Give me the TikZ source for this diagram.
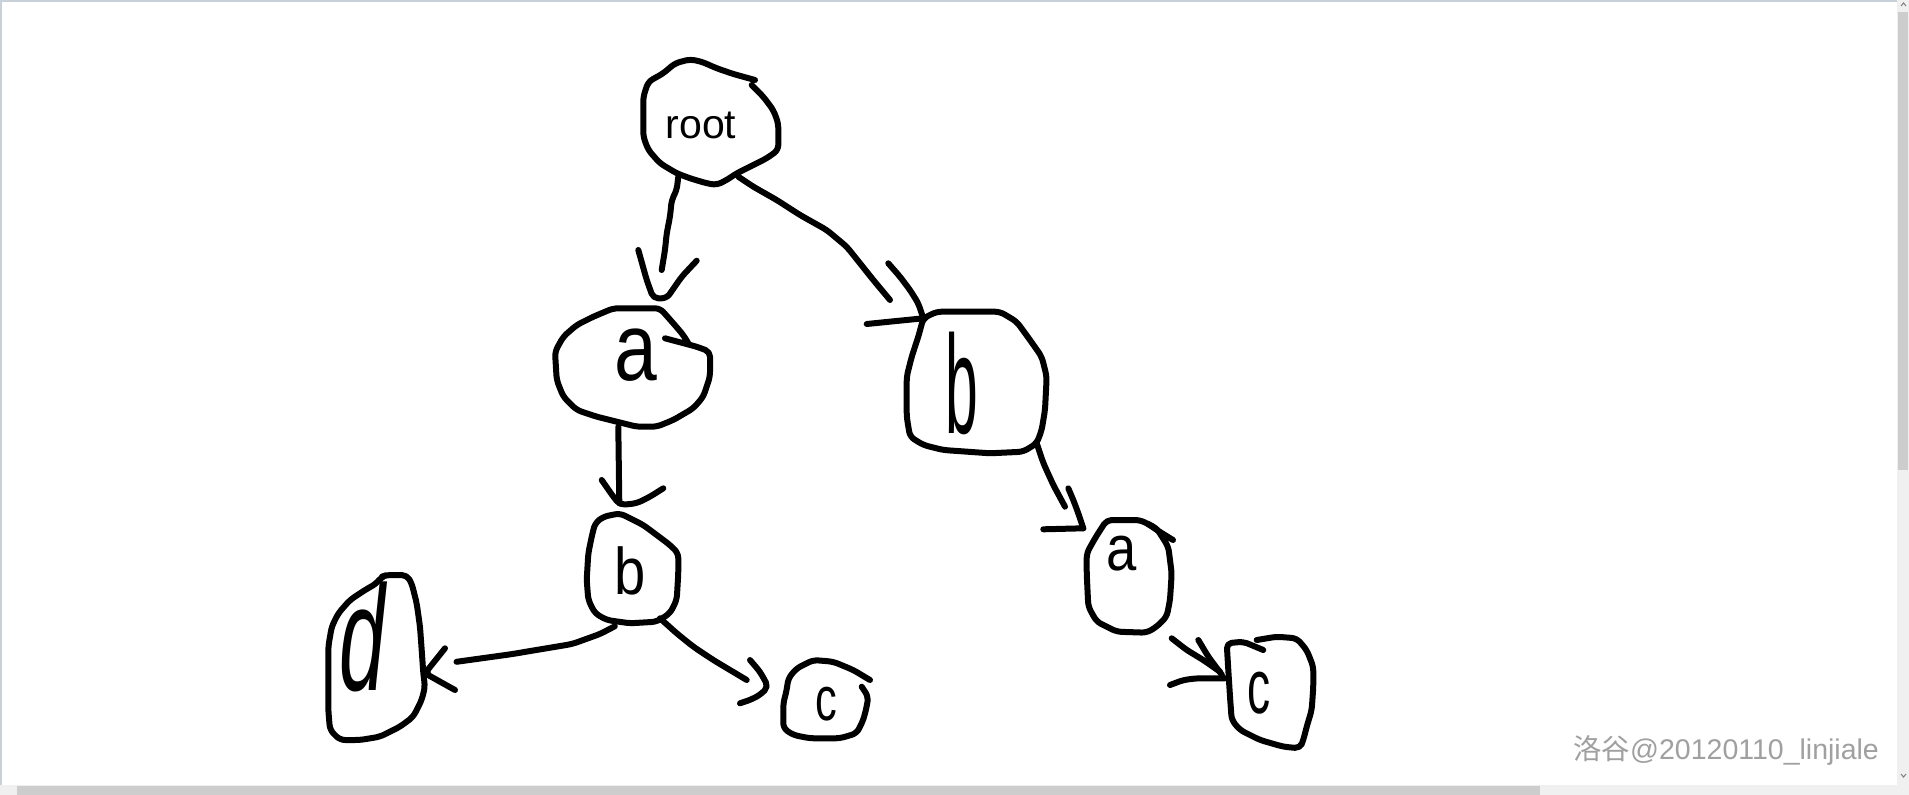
\documentclass[tikz,border=0pt]{standalone}
\usepackage{fontspec}
\usepackage{graphicx}
\setmainfont{Liberation Sans}
\newfontfamily\cjk{Noto Sans CJK SC}
\definecolor{wmgray}{HTML}{A0A0A0}
\definecolor{track}{HTML}{F0F0F0}
\definecolor{thumb}{HTML}{CDCDCD}
\definecolor{frame}{HTML}{C8D0DA}
\begin{document}
\begin{tikzpicture}[x=1pt,y=-1pt,
  pen/.style={line width=6pt,line cap=round,line join=round,rounded corners=5pt},
  lbl/.style={anchor=base,inner sep=0pt,text=black}]
\useasboundingbox (0,0) rectangle (1909,795);
\fill[white] (0,0) rectangle (1909,795);
% window frame and scrollbars
\draw[frame,line width=2pt] (1,795) -- (1,1) -- (1909,1);
\fill[track] (1897,0) rectangle (1909,795);
\fill[thumb] (1898,12) rectangle (1908,470);
\fill[track] (0,785) rectangle (1897,795);
\fill[thumb] (17,786) rectangle (1540,795);
\draw[gray,line width=1pt] (1901,6) -- (1903.5,3) -- (1906,6);
\draw[gray,line width=1pt] (1901,774) -- (1903.5,777) -- (1906,774);

% ---------- labels (nodes) ----------
\node[lbl] (root) at (701,138) {\fontsize{41}{41}\selectfont root};
\node[lbl] (na)   at (636,380) {\fontsize{96}{96}\selectfont\scalebox{0.8}[1]{a}};
\node[lbl] (nbR)  at (962,433) {\fontsize{140}{140}\selectfont\scalebox{0.42}[1]{b}};
\node[lbl] (nbL)  at (630,594) {\fontsize{66}{66}\selectfont\scalebox{0.85}[1]{b}};
\node[lbl] (nd)   at (362,690) {\fontsize{150}{150}\selectfont\scalebox{0.55}[1]{\itshape d}};
\node[lbl] (ncL)  at (826,720) {\fontsize{62}{62}\selectfont\scalebox{0.7}[1]{c}};
\node[lbl] (naR)  at (1122,570) {\fontsize{64}{64}\selectfont\scalebox{0.85}[1]{a}};
\node[lbl] (ncR)  at (1259,713) {\fontsize{77}{77}\selectfont\scalebox{0.6}[1]{c}};

% ---------- outlines ----------
% root
\draw[pen] (751.7,85) -- (763.3,96.7) -- (773.3,110) -- (778.3,123.3) -- (778.3,150) -- (766.7,158.3) -- (750,166.7) -- (736.7,173.3) -- (726.7,180) -- (716.7,185) -- (706.7,183.3) -- (690,178.3) -- (676.7,173.3) -- (660,163.3) -- (648.3,150) -- (643.3,136.7) -- (643.3,96.7) -- (648.3,81.7) -- (663.3,73.3) -- (675,63.3) -- (690,59.3) -- (701.7,61.7) -- (716.7,68.3) -- (733.3,74) -- (755,80);
% a (left)
\draw[pen] (665,338.3) -- (696.7,346.7) -- (710,351.7) -- (710,376.7) -- (703.3,396.7) -- (693.3,408.3) -- (673.3,420) -- (656.7,426.7) -- (636.7,426.7) -- (616.7,421.7) -- (596.7,416.7) -- (576.7,410) -- (563.3,396.7) -- (556.7,380) -- (555,351.7) -- (563.3,336.7) -- (576.7,325) -- (593.3,316.7) -- (613.3,308.3) -- (660,308.3) -- (673.3,323.3) -- (683.3,335) -- (688.3,343.3);
% b (right)
\draw[pen] (923.3,318.3) -- (936.7,311.7) -- (1000,311.7) -- (1016.7,321.7) -- (1030,340) -- (1041.7,356.7) -- (1046.7,376.7) -- (1045,410) -- (1041.7,430) -- (1036.7,443.3) -- (1023.3,451.7) -- (990,453.3) -- (943.3,450) -- (923.3,445) -- (910,436.7) -- (906.7,416.7) -- (906.7,376.7) -- (911.7,356.7) -- (918.3,336.7) -- cycle;
% b (left)
\draw[pen] (620,513.3) -- (603.3,516.7) -- (595,523.3) -- (591.7,536.7) -- (588.3,553.3) -- (586.7,580) -- (588.3,600) -- (595,613.3) -- (606.7,620) -- (630,623.3) -- (656.7,621.7) -- (670,613.3) -- (676.7,600) -- (678.3,573.3) -- (678.3,553.3) -- (670,545) -- (656.7,535) -- (643.3,525) -- (630,518.3) -- cycle;
% d
\draw[pen] (381.7,576.7) -- (386.7,575) -- (406.7,575) -- (411.7,583.3) -- (416.7,603.3) -- (420,626.7) -- (421.7,650) -- (423.3,673.3) -- (425,686.7) -- (421.7,700) -- (413.3,716.7) -- (400,726.7) -- (380,736.7) -- (360,740) -- (340,740) -- (330,730) -- (328.3,710) -- (328.3,676.7) -- (328.3,646.7) -- (331.7,626.7) -- (338.3,613.3) -- (350,600) -- (365,590) -- (376.7,583.3) -- cycle;
% c (left)
\draw[pen] (870,680) -- (853.3,670) -- (833.3,661.7) -- (813.3,660) -- (796.7,668.3) -- (788.3,678.3) -- (786.7,690) -- (783.3,703.3) -- (783.3,728.3) -- (793.3,735) -- (810,738.3) -- (840,738.3) -- (856.7,733.3) -- (863.3,720) -- (866.7,706.7) -- (868.3,696.7) -- (861.7,686.7);
% a (right)
\draw[pen] (1086.7,553.3) -- (1095,538.3) -- (1106.7,520) -- (1140,520) -- (1156.7,528.3) -- (1168.3,546.7) -- (1171.7,573.3) -- (1170,600) -- (1166.7,616.7) -- (1156.7,626.7) -- (1146.7,632.7) -- (1116.7,631.7) -- (1096.7,621.7) -- (1088.3,606.7) -- (1086.7,573.3) -- cycle;
\draw[pen] (1148,524) -- (1160,532) -- (1173,540);
% c (right)
\draw[pen] (1256.7,640) -- (1276.7,636.7) -- (1296.7,638.3) -- (1306.7,650) -- (1313.3,666.7) -- (1313.3,686.7) -- (1311.7,710) -- (1306.7,726.7) -- (1303.3,740) -- (1300,748.3) -- (1283.3,746.7) -- (1260,740) -- (1240,730) -- (1231.7,720) -- (1230,696.7) -- (1228.3,670) -- (1226.7,643.3) -- (1243.3,641.7) -- (1263.3,650);

% ---------- connector end points ----------
\coordinate (root-s1) at (678.3,176.7);
\coordinate (na-n)    at (661.7,270);
\coordinate (root-s2) at (738.3,176.7);
\coordinate (nbR-n)   at (890,300);
\coordinate (na-s)    at (618.3,426.7);
\coordinate (nbL-n)   at (619.3,503.3);
\coordinate (nbL-s1)  at (614.8,626.3);
\coordinate (nd-e)    at (456.5,661.8);
\coordinate (nbL-s2)  at (660,618.3);
\coordinate (ncL-w)   at (746.7,680);
\coordinate (nbR-s)   at (1036.7,443.3);
\coordinate (naR-n)   at (1065,506.7);
\coordinate (naR-s)   at (1171.7,638.3);
\coordinate (ncR-w)   at (1220,671.7);

% ---------- connectors ----------
\draw[pen] (root-s1) -- (676.7,190) -- (671.7,200) -- (670,216.7) -- (666.7,233.3) -- (665,250) -- (na-n);
\draw[pen] (638.3,250) -- (646.7,280) -- (653.3,298.3) -- (666.7,298.3) -- (681.7,276.7) -- (696.7,260.7);

\draw[pen] (root-s2) -- (753.3,186.7) -- (776.7,200) -- (800,215) -- (826.7,230) -- (846.7,246.7) -- (860,263.3) -- (873.3,280) -- (nbR-n);
\draw[pen] (888.3,263.3) -- (900,276.7) -- (910,290) -- (918.3,303.3) -- (923.3,318.3);
\draw[pen] (866.7,324) -- (923.3,318.3);

\draw[pen] (na-s) -- (nbL-n);
\draw[pen] (601.7,480) -- (613.3,496.7) -- (620,505) -- (636.7,503.3) -- (650,496.7) -- (663.3,488.3);

\draw[pen] (nbL-s1) -- (600,634) -- (572.2,644) -- (511.3,654.2) -- (nd-e);
\draw[pen] (445,648.3) -- (425,673.3) -- (455,690);

\draw[pen] (nbL-s2) -- (676.7,633.3) -- (693.3,646.7) -- (713.3,660) -- (730,670) -- (ncL-w);
\draw[pen] (750,660) -- (760,671.7) -- (768.3,686.7) -- (760,695) -- (750,700) -- (740,703.3);

\draw[pen] (nbR-s) -- (1043.3,463) -- (1053.3,485) -- (naR-n);
\draw[pen] (1068.3,488.3) -- (1073.3,500) -- (1078.3,513.3) -- (1083.3,528.3);
\draw[pen] (1043.3,529.3) -- (1083.3,528.3);

\draw[pen] (naR-s) -- (1186.7,650) -- (1203.3,660) -- (ncR-w);
\draw[pen] (1198.3,640) -- (1208.3,656.7) -- (1222,675);
\draw[pen] (1170,685) -- (1183.3,680) -- (1196.7,678.3) -- (1225,678.3);

% ---------- watermark ----------
\node[anchor=base west,inner sep=0pt,text=wmgray] (wm) at (1573,759) {\fontsize{28.5}{28.5}\selectfont{\cjk 洛谷}@20120110\_linjiale};
\end{tikzpicture}
\end{document}
